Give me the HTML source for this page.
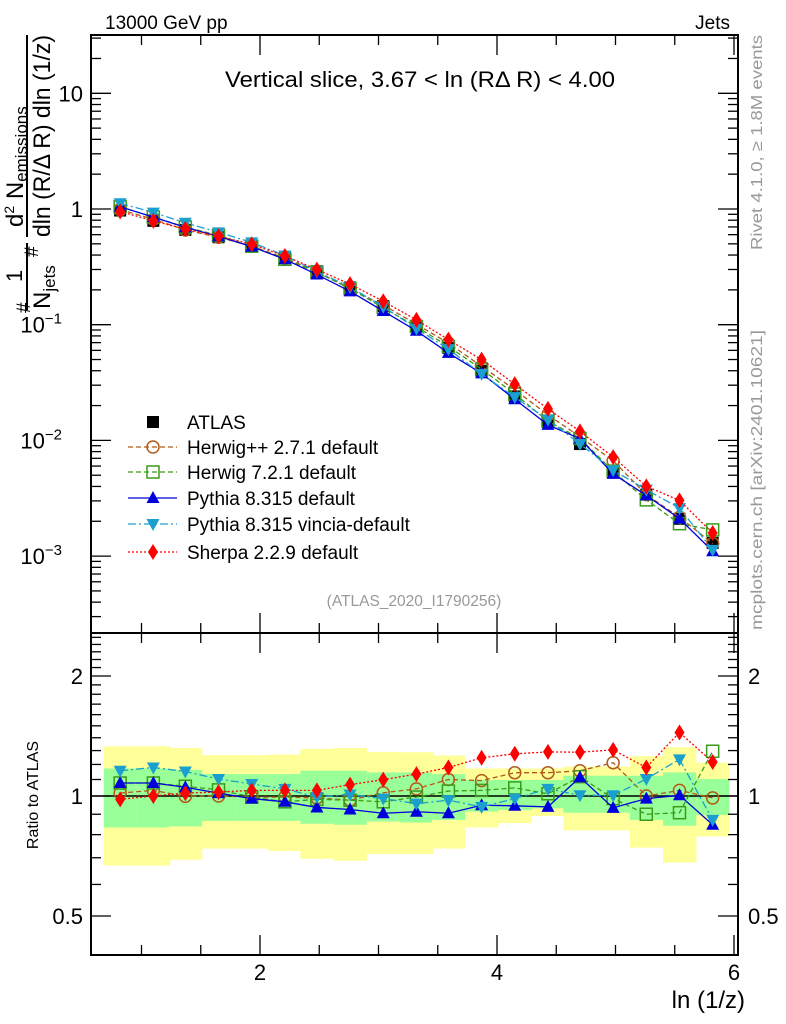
<!DOCTYPE html>
<html><head><meta charset="utf-8"><style>
body{margin:0;background:#fff;}
svg{display:block;font-family:"Liberation Sans",sans-serif;}
</style></head><body>
<svg id="c" width="786" height="1024" xmlns="http://www.w3.org/2000/svg">
<text x="105" y="29" font-size="19">13000 GeV pp</text>
<text x="730" y="29" font-size="19" text-anchor="end">Jets</text>
<text x="225" y="87" font-size="22" textLength="390" lengthAdjust="spacingAndGlyphs">Vertical slice, 3.67 &lt; ln (RΔ R) &lt; 4.00</text>
<text x="414" y="606" font-size="15.5" fill="#999" text-anchor="middle">(ATLAS_2020_I1790256)</text>
<text transform="translate(762,250) rotate(-90)" font-size="16" fill="#999" textLength="215" lengthAdjust="spacingAndGlyphs">Rivet 4.1.0, ≥ 1.8M events</text>
<text transform="translate(762,630) rotate(-90)" font-size="16" fill="#999" textLength="300" lengthAdjust="spacingAndGlyphs">mcplots.cern.ch [arXiv:2401.10621]</text>
<g>
<text transform="translate(23,227) rotate(-90)" font-size="24">d<tspan font-size="14" dy="-9">2</tspan><tspan dy="9"> N</tspan><tspan font-size="17" dy="4">emissions</tspan></text>
<line x1="27" y1="35" x2="27" y2="237" stroke="#000" stroke-width="2"/>
<text transform="translate(50,237) rotate(-90)" font-size="24" textLength="202" lengthAdjust="spacingAndGlyphs">dln (R/Δ R) dln (1/z)</text>
<text transform="translate(38,257) rotate(-90)" font-size="19">#</text>
<text transform="translate(22,282) rotate(-90)" font-size="22">1</text>
<line x1="27" y1="243" x2="27" y2="310" stroke="#000" stroke-width="2"/>
<text transform="translate(50,309) rotate(-90)" font-size="24">N<tspan font-size="17" dy="5">jets</tspan></text>
<text transform="translate(30,313) rotate(-90)" font-size="19">#</text>
</g>
<text transform="translate(38,795) rotate(-90)" font-size="16" text-anchor="middle">Ratio to ATLAS</text>
<text x="745" y="1008" font-size="24" text-anchor="end">ln (1/z)</text>
</svg>
<script>
const xCenters=[0.82,1.10,1.37,1.65,1.93,2.21,2.48,2.76,3.04,3.32,3.59,3.87,4.15,4.43,4.70,4.98,5.26,5.54,5.82];
const binWidth=0.2778;
const atlas=[0.97,0.79,0.66,0.57,0.48,0.38,0.29,0.21,0.145,0.097,0.063,0.040,0.024,0.0145,0.0093,0.0055,0.0034,0.0021,0.0013];
const yellowUp=[1.332,1.332,1.320,1.266,1.266,1.271,1.313,1.320,1.290,1.288,1.264,1.172,1.172,1.172,1.185,1.185,1.259,1.325,1.212];
const yellowDn=[0.669,0.669,0.692,0.738,0.738,0.728,0.696,0.688,0.715,0.715,0.738,0.834,0.855,0.891,0.820,0.820,0.742,0.681,0.792];
const greenUp=[1.172,1.172,1.163,1.135,1.135,1.135,1.157,1.157,1.146,1.146,1.135,1.097,1.097,1.097,1.124,1.124,1.124,1.146,1.103];
const greenDn=[0.834,0.834,0.839,0.866,0.866,0.866,0.852,0.847,0.863,0.858,0.871,0.914,0.922,0.931,0.908,0.908,0.871,0.842,0.896];
const rHerwigpp=[1.017,1.033,0.998,1.0,0.994,0.994,0.989,0.976,1.019,1.042,1.10,1.093,1.144,1.144,1.157,1.212,1.0,1.033,0.989];
const rHerwig7=[1.078,1.078,1.058,1.036,0.994,0.967,0.981,0.976,0.967,0.994,1.029,1.033,1.048,1.013,1.118,0.985,0.900,0.908,1.295];
const rPythia=[1.078,1.078,1.052,1.017,0.985,0.967,0.936,0.925,0.905,0.913,0.905,0.948,0.945,0.939,1.114,0.934,0.985,1.004,0.847];
const rVincia=[1.157,1.179,1.152,1.103,1.072,1.042,0.994,1.009,0.985,0.957,0.976,0.939,0.985,1.042,1.004,1.004,1.103,1.236,0.871];
const rSherpa=[0.981,1.0,1.017,1.023,1.033,1.033,1.033,1.068,1.099,1.135,1.179,1.247,1.276,1.290,1.288,1.305,1.179,1.443,1.217];
const mainTicks=[10,1,0.1,0.01,0.001];
const mainTickLabels=["10","1","10","10","10"];
const mainTickExp=["","","−1","−2","−3"];
const ratioTicks=[0.5,1,2];
const ratioTickLabels=["0.5","1","2"];
const xTicks=[2,4,6];
const xTickLabels=["2","4","6"];

const NS="http://www.w3.org/2000/svg";
const svg=document.getElementById('c');
const L=91,R=738,T1=35,B1=633,T2=633,B2=955;
const X=v=>260+(v-2)*118.5;
const Ym=v=>209-Math.log10(v)*115.7;
const Yr=v=>796-Math.log2(v)*120;
function mk(tag,a,parent){const e=document.createElementNS(NS,tag);for(const k in a)e.setAttribute(k,a[k]);(parent||svg).appendChild(e);return e;}

const gb=mk('g',{});


xCenters.forEach((c,i)=>{
 const x0=X(c-binWidth/2),x1=X(c+binWidth/2);
 const y=mk('rect',{x:x0,y:Yr(yellowUp[i]),width:x1-x0+0.5,height:Yr(yellowDn[i])-Yr(yellowUp[i]),fill:'#ffff99'},gb);
 
 
 const g=mk('rect',{x:x0,y:Yr(greenUp[i]),width:x1-x0+0.5,height:Yr(greenDn[i])-Yr(greenUp[i]),fill:'#99ff99'},gb);
 
 
});
const one=mk('line',{x1:L,x2:R,y1:Yr(1),y2:Yr(1),stroke:'#000','stroke-width':1.5});



function frame(t,b,name){const r=mk('rect',{x:L,y:t,width:R-L,height:b-t,fill:'none',stroke:'#000','stroke-width':2});}
frame(T1,B1,'main-plot-frame');frame(T2,B2,'ratio-plot-frame');
const tk=mk('g',{stroke:'#000','stroke-width':1.3});


for(let e=-4;e<=1;e++)for(let m=1;m<10;m++){const v=m*Math.pow(10,e);const y=Ym(v);if(y<T1||y>B1)continue;const len=m===1?20:10;mk('line',{x1:L,x2:L+len,y1:y,y2:y},tk);mk('line',{x1:R,x2:R-len,y1:y,y2:y},tk);}
for(let v=0.4;v<2.6;v+=0.1){const vv=Math.round(v*10)/10;const y=Yr(vv);if(y<T2||y>B2)continue;const major=(vv===0.5||vv===1||vv===2);const len=major?20:10;mk('line',{x1:L,x2:L+len,y1:y,y2:y},tk);mk('line',{x1:R,x2:R-len,y1:y,y2:y},tk);}
for(let v=1;v<=6;v+=0.5){const x=X(v);if(x<L||x>R)continue;const major=(v%2===0);const len=major?20:10;[[T1,1],[B1,-1],[T2,1],[B2,-1]].forEach(([y,d])=>mk('line',{x1:x,x2:x,y1:y,y2:y+d*len},tk));}
mainTickLabels.forEach((lab,i)=>{const v=mainTicks[i];const t=mk('text',{x:83,y:Ym(v)+8,'font-size':22,'text-anchor':'end'});t.textContent=lab;if(mainTickExp[i]){t.setAttribute('x',62);const s=mk('tspan',{'font-size':15,dy:-9},t);s.textContent=mainTickExp[i];}});
ratioTicks.forEach((v,i)=>{[[83,'end'],[748,'start']].forEach(([x,a])=>{const t=mk('text',{x:x,y:Yr(v)+8,'font-size':22,'text-anchor':a});t.textContent=ratioTickLabels[i];});});
xTicks.forEach((v,i)=>{const t=mk('text',{x:X(v),y:980,'font-size':22,'text-anchor':'middle'});t.textContent=xTickLabels[i];});

const series=[
 {name:'herwigpp',r:rHerwigpp,col:'#b05a1a',dash:'5,3',m:'circle'},
 {name:'herwig7',r:rHerwig7,col:'#3a9a1a',dash:'5,3',m:'square'},
 {name:'pythia',r:rPythia,col:'#0000dd',dash:'',m:'tri'},
 {name:'vincia',r:rVincia,col:'#1a9fcf',dash:'8,3,2,3',m:'itri'},
 {name:'sherpa',r:rSherpa,col:'#ff0000',dash:'2,2',m:'diamond'}];
function marker(g,m,x,y,col){
 if(m==='circle')return mk('circle',{cx:x,cy:y,r:6,fill:'none',stroke:col,'stroke-width':1.5},g);
 if(m==='square')return mk('rect',{x:x-6,y:y-6,width:12,height:12,fill:'none',stroke:col,'stroke-width':1.5},g);
 if(m==='tri')return mk('polygon',{points:`${x},${y-7} ${x-6.5},${y+5} ${x+6.5},${y+5}`,fill:col},g);
 if(m==='itri')return mk('polygon',{points:`${x},${y+7} ${x-6.5},${y-5} ${x+6.5},${y-5}`,fill:col},g);
 if(m==='diamond')return mk('polygon',{points:`${x},${y-8} ${x-5},${y} ${x},${y+8} ${x+5},${y}`,fill:col},g);
 if(m==='sq')return mk('rect',{x:x-6,y:y-6,width:12,height:12,fill:col},g);
}
const ga=mk('g',{});


xCenters.forEach((c,i)=>{const p=marker(ga,'sq',X(c),Ym(atlas[i]),'#000');});
series.forEach(s=>{
 const gm=mk('g',{});
 
 
 const pts=xCenters.map((c,i)=>X(c)+','+Ym(atlas[i]*s.r[i])).join(' ');
 mk('polyline',{points:pts,fill:'none',stroke:s.col,'stroke-width':1.3,'stroke-dasharray':s.dash},gm);
 xCenters.forEach((c,i)=>{const p=marker(gm,s.m,X(c),Ym(atlas[i]*s.r[i]),s.col);});
 const gr=mk('g',{});
 
 
 const pr=xCenters.map((c,i)=>X(c)+','+Yr(s.r[i])).join(' ');
 mk('polyline',{points:pr,fill:'none',stroke:s.col,'stroke-width':1.3,'stroke-dasharray':s.dash},gr);
 xCenters.forEach((c,i)=>{const p=marker(gr,s.m,X(c),Yr(s.r[i]),s.col);});
});

const lg=mk('g',{});


const legendLabels=['ATLAS','Herwig++ 2.7.1 default','Herwig 7.2.1 default','Pythia 8.315 default','Pythia 8.315 vincia-default','Sherpa 2.2.9 default'];
const legendY=[422,447,472,498,524,552];
legendLabels.forEach((lab,i)=>{
 const e=mk('g',{},lg);
 
 
 const y=legendY[i];
 if(i===0){marker(e,'sq',153,y,'#000');}
 else{const s=series[i-1];mk('line',{x1:128,x2:177,y1:y,y2:y,stroke:s.col,'stroke-width':1.3,'stroke-dasharray':s.dash},e);marker(e,s.m,153,y,s.col);}
 const t=mk('text',{x:187,y:y+7,'font-size':19},e);t.textContent=lab;
});
</script>
</body></html>
